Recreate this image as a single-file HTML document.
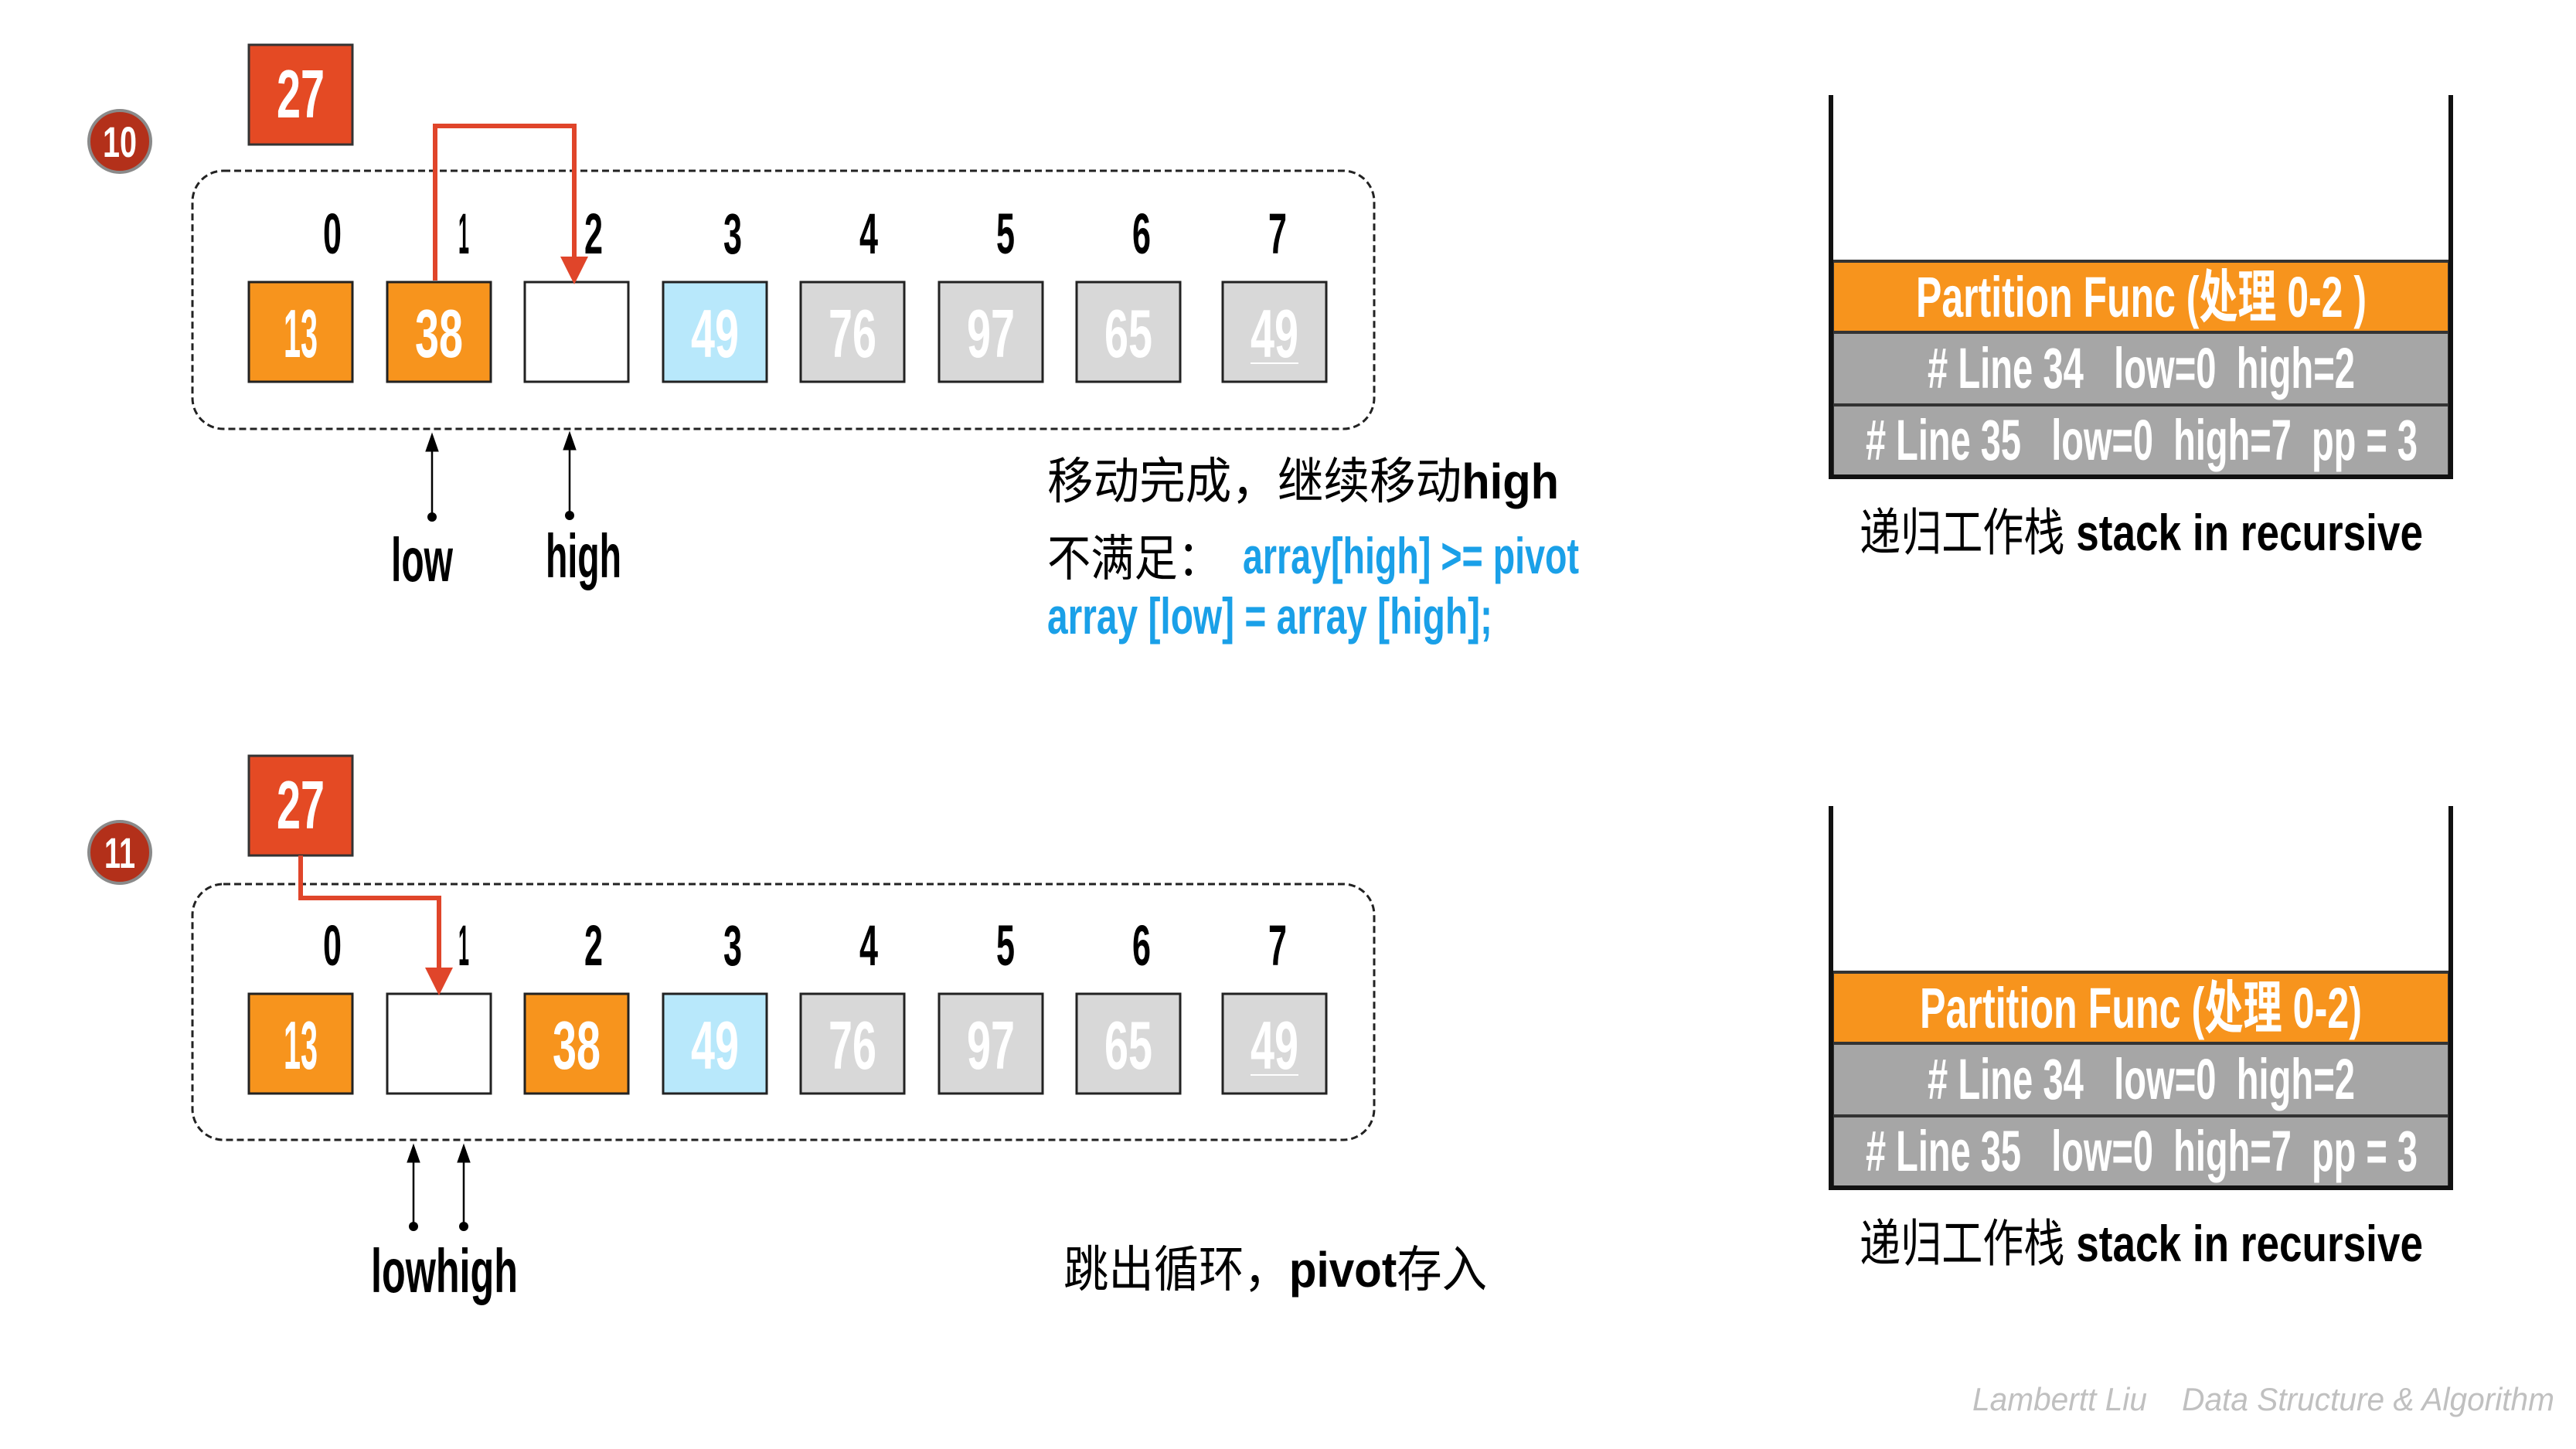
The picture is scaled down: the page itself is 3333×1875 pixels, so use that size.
<!DOCTYPE html>
<html><head><meta charset="utf-8"><style>
html,body{margin:0;padding:0;background:#fff;}
svg{display:block;}
text{font-family:"Liberation Sans","Noto Sans CJK SC",sans-serif;white-space:pre;}
.b{font-weight:bold;}
</style></head><body>
<svg width="3333" height="1875" viewBox="0 0 3333 1875" xmlns="http://www.w3.org/2000/svg" xml:space="preserve">
<defs>
<marker id="ar" markerWidth="6" markerHeight="6" refX="3" refY="3" orient="auto" markerUnits="strokeWidth"><path d="M0,0 L6,3 L0,6 z" fill="#e0452a"/></marker>
<marker id="ab" markerWidth="10" markerHeight="10" refX="5" refY="5" orient="auto" markerUnits="strokeWidth"><path d="M0,1.5 L10,5 L0,8.5 z" fill="#000"/></marker>
</defs>

<!-- ===== TOP (10) ===== -->
<circle cx="155" cy="183" r="40" fill="#b3301a" stroke="#8a8a8a" stroke-width="4"/>
<text x="155" y="203" text-anchor="middle" font-size="56" class="b" fill="#fff" textLength="44" lengthAdjust="spacingAndGlyphs">10</text>
<rect x="322" y="58" width="134" height="129" fill="#e44a24" stroke="#333" stroke-width="3"/>
<text x="389" y="152" text-anchor="middle" font-size="88" class="b" fill="#fff" textLength="62" lengthAdjust="spacingAndGlyphs">27</text>
<rect x="249" y="221" width="1529" height="334" rx="40" fill="none" stroke="#222" stroke-width="3" stroke-dasharray="9,5"/>
<g font-size="74" class="b" fill="#000" text-anchor="middle">
<text x="430" y="328" textLength="24" lengthAdjust="spacingAndGlyphs">0</text>
<text x="600" y="328" textLength="14" lengthAdjust="spacingAndGlyphs">1</text>
<text x="768" y="328" textLength="24" lengthAdjust="spacingAndGlyphs">2</text>
<text x="948" y="328" textLength="24" lengthAdjust="spacingAndGlyphs">3</text>
<text x="1124" y="328" textLength="24" lengthAdjust="spacingAndGlyphs">4</text>
<text x="1301" y="328" textLength="24" lengthAdjust="spacingAndGlyphs">5</text>
<text x="1477" y="328" textLength="24" lengthAdjust="spacingAndGlyphs">6</text>
<text x="1653" y="328" textLength="24" lengthAdjust="spacingAndGlyphs">7</text>
</g>
<g stroke="#222" stroke-width="3">
<rect x="322" y="365" width="134" height="129" fill="#f7941d"/>
<rect x="501" y="365" width="134" height="129" fill="#f7941d"/>
<rect x="679" y="365" width="134" height="129" fill="#fff"/>
<rect x="858" y="365" width="134" height="129" fill="#b8e8fb"/>
<rect x="1036" y="365" width="134" height="129" fill="#d8d8d8"/>
<rect x="1215" y="365" width="134" height="129" fill="#d8d8d8"/>
<rect x="1393" y="365" width="134" height="129" fill="#d8d8d8"/>
<rect x="1582" y="365" width="134" height="129" fill="#d8d8d8"/>
</g>
<g font-size="88" class="b" fill="#fff" text-anchor="middle">
<text x="389" y="462" textLength="44" lengthAdjust="spacingAndGlyphs">13</text>
<text x="568" y="462" textLength="62" lengthAdjust="spacingAndGlyphs">38</text>
<text x="925" y="462" textLength="62" lengthAdjust="spacingAndGlyphs">49</text>
<text x="1103" y="462" textLength="62" lengthAdjust="spacingAndGlyphs">76</text>
<text x="1282" y="462" textLength="62" lengthAdjust="spacingAndGlyphs">97</text>
<text x="1460" y="462" textLength="62" lengthAdjust="spacingAndGlyphs">65</text>
<text x="1649" y="462" textLength="62" lengthAdjust="spacingAndGlyphs">49</text>
</g>
<line x1="1618" y1="470" x2="1680" y2="470" stroke="#fff" stroke-width="2"/>
<polyline points="563,363 563,163 743,163 743,350" fill="none" stroke="#e0452a" stroke-width="6" marker-end="url(#ar)"/>
<line x1="559" y1="669" x2="559" y2="572" stroke="#000" stroke-width="2.5" marker-end="url(#ab)"/>
<circle cx="559" cy="669" r="6" fill="#000"/>
<line x1="737" y1="667" x2="737" y2="570" stroke="#000" stroke-width="2.5" marker-end="url(#ab)"/>
<circle cx="737" cy="667" r="6" fill="#000"/>
<text x="546" y="752" text-anchor="middle" font-size="80" class="b" textLength="80" lengthAdjust="spacingAndGlyphs">low</text>
<text x="755" y="747" text-anchor="middle" font-size="80" class="b" textLength="98" lengthAdjust="spacingAndGlyphs">high</text>

<text x="1355" y="645" font-size="64" textLength="662" lengthAdjust="spacingAndGlyphs">移动完成，继续移动<tspan class="b">high</tspan></text>
<text x="1355" y="745" font-size="64" textLength="225" lengthAdjust="spacingAndGlyphs">不满足：</text>
<text x="1608" y="742" font-size="66" class="b" fill="#1aa0e8" textLength="435" lengthAdjust="spacingAndGlyphs">array[high] &gt;= pivot</text>
<text x="1355" y="820" font-size="66" class="b" fill="#1aa0e8" textLength="576" lengthAdjust="spacingAndGlyphs">array [low] = array [high];</text>

<!-- stack top -->
<rect x="2371" y="338" width="798" height="92" fill="#f7941d" stroke="#333" stroke-width="4"/>
<rect x="2371" y="430" width="798" height="94" fill="#a6a6a6" stroke="#333" stroke-width="4"/>
<rect x="2371" y="524" width="798" height="93" fill="#a6a6a6" stroke="#333" stroke-width="4"/>
<polyline points="2369,123 2369,617 3171,617 3171,123" fill="none" stroke="#111" stroke-width="6"/>
<g font-size="74" class="b" fill="#fff">
<text x="2479" y="410" textLength="583" lengthAdjust="spacingAndGlyphs">Partition Func (处理 0-2 )</text>
<text x="2494" y="502" textLength="553" lengthAdjust="spacingAndGlyphs"># Line 34   low=0  high=2</text>
<text x="2414" y="595" textLength="714" lengthAdjust="spacingAndGlyphs"># Line 35   low=0  high=7  pp = 3</text>
</g>
<text x="2406" y="712" font-size="66" textLength="729" lengthAdjust="spacingAndGlyphs">递归工作栈 <tspan class="b">stack in recursive</tspan></text>

<!-- ===== BOTTOM (11) ===== -->
<circle cx="155" cy="1103" r="40" fill="#b3301a" stroke="#8a8a8a" stroke-width="4"/>
<text x="155" y="1123" text-anchor="middle" font-size="56" class="b" fill="#fff" textLength="40" lengthAdjust="spacingAndGlyphs">11</text>
<rect x="322" y="978" width="134" height="129" fill="#e44a24" stroke="#333" stroke-width="3"/>
<text x="389" y="1072" text-anchor="middle" font-size="88" class="b" fill="#fff" textLength="62" lengthAdjust="spacingAndGlyphs">27</text>
<rect x="249" y="1144" width="1529" height="331" rx="40" fill="none" stroke="#222" stroke-width="3" stroke-dasharray="9,5"/>
<g font-size="74" class="b" fill="#000" text-anchor="middle">
<text x="430" y="1249" textLength="24" lengthAdjust="spacingAndGlyphs">0</text>
<text x="600" y="1249" textLength="14" lengthAdjust="spacingAndGlyphs">1</text>
<text x="768" y="1249" textLength="24" lengthAdjust="spacingAndGlyphs">2</text>
<text x="948" y="1249" textLength="24" lengthAdjust="spacingAndGlyphs">3</text>
<text x="1124" y="1249" textLength="24" lengthAdjust="spacingAndGlyphs">4</text>
<text x="1301" y="1249" textLength="24" lengthAdjust="spacingAndGlyphs">5</text>
<text x="1477" y="1249" textLength="24" lengthAdjust="spacingAndGlyphs">6</text>
<text x="1653" y="1249" textLength="24" lengthAdjust="spacingAndGlyphs">7</text>
</g>
<g stroke="#222" stroke-width="3">
<rect x="322" y="1286" width="134" height="129" fill="#f7941d"/>
<rect x="501" y="1286" width="134" height="129" fill="#fff"/>
<rect x="679" y="1286" width="134" height="129" fill="#f7941d"/>
<rect x="858" y="1286" width="134" height="129" fill="#b8e8fb"/>
<rect x="1036" y="1286" width="134" height="129" fill="#d8d8d8"/>
<rect x="1215" y="1286" width="134" height="129" fill="#d8d8d8"/>
<rect x="1393" y="1286" width="134" height="129" fill="#d8d8d8"/>
<rect x="1582" y="1286" width="134" height="129" fill="#d8d8d8"/>
</g>
<g font-size="88" class="b" fill="#fff" text-anchor="middle">
<text x="389" y="1383" textLength="44" lengthAdjust="spacingAndGlyphs">13</text>
<text x="746" y="1383" textLength="62" lengthAdjust="spacingAndGlyphs">38</text>
<text x="925" y="1383" textLength="62" lengthAdjust="spacingAndGlyphs">49</text>
<text x="1103" y="1383" textLength="62" lengthAdjust="spacingAndGlyphs">76</text>
<text x="1282" y="1383" textLength="62" lengthAdjust="spacingAndGlyphs">97</text>
<text x="1460" y="1383" textLength="62" lengthAdjust="spacingAndGlyphs">65</text>
<text x="1649" y="1383" textLength="62" lengthAdjust="spacingAndGlyphs">49</text>
</g>
<line x1="1618" y1="1391" x2="1680" y2="1391" stroke="#fff" stroke-width="2"/>
<polyline points="389,1107 389,1162 568,1162 568,1270" fill="none" stroke="#e0452a" stroke-width="6" marker-end="url(#ar)"/>
<line x1="535" y1="1587" x2="535" y2="1492" stroke="#000" stroke-width="2.5" marker-end="url(#ab)"/>
<circle cx="535" cy="1587" r="6" fill="#000"/>
<line x1="600" y1="1587" x2="600" y2="1492" stroke="#000" stroke-width="2.5" marker-end="url(#ab)"/>
<circle cx="600" cy="1587" r="6" fill="#000"/>
<text x="480" y="1672" font-size="80" class="b" textLength="190" lengthAdjust="spacingAndGlyphs">lowhigh</text>
<text x="1376" y="1665" font-size="64" textLength="548" lengthAdjust="spacingAndGlyphs">跳出循环，<tspan class="b">pivot</tspan>存入</text>

<!-- stack bottom -->
<rect x="2371" y="1258" width="798" height="92" fill="#f7941d" stroke="#333" stroke-width="4"/>
<rect x="2371" y="1350" width="798" height="94" fill="#a6a6a6" stroke="#333" stroke-width="4"/>
<rect x="2371" y="1444" width="798" height="93" fill="#a6a6a6" stroke="#333" stroke-width="4"/>
<polyline points="2369,1043 2369,1537 3171,1537 3171,1043" fill="none" stroke="#111" stroke-width="6"/>
<g font-size="74" class="b" fill="#fff">
<text x="2484" y="1330" textLength="572" lengthAdjust="spacingAndGlyphs">Partition Func (处理 0-2)</text>
<text x="2494" y="1422" textLength="553" lengthAdjust="spacingAndGlyphs"># Line 34   low=0  high=2</text>
<text x="2414" y="1515" textLength="714" lengthAdjust="spacingAndGlyphs"># Line 35   low=0  high=7  pp = 3</text>
</g>
<text x="2406" y="1632" font-size="66" textLength="729" lengthAdjust="spacingAndGlyphs">递归工作栈 <tspan class="b">stack in recursive</tspan></text>

<text x="2552" y="1825" font-size="42" font-style="italic" fill="#c0c0c0" textLength="753" lengthAdjust="spacingAndGlyphs">Lambertt Liu    Data Structure &amp; Algorithm</text>
</svg>
</body></html>
